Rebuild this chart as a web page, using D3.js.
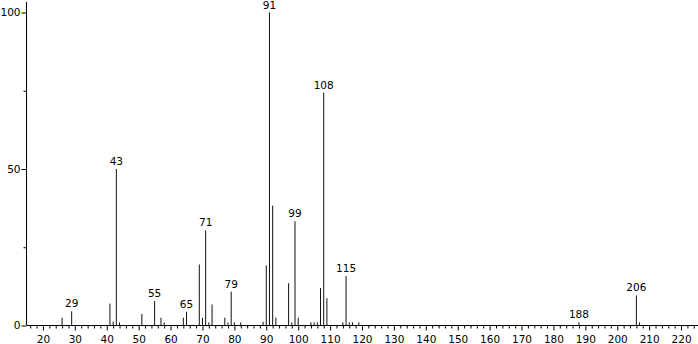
<!DOCTYPE html>
<html><head><meta charset="utf-8">
<script src="https://cdn.jsdelivr.net/npm/d3@7"></script>
<style>body{margin:0;background:#fff}svg{display:block}text{font-family:"DejaVu Sans",sans-serif;font-size:10.5px;fill:#000}</style>
</head><body><svg id="c" width="698" height="344"></svg>
<script>
const mz = [26,29,41,42,43,44,51,55,57,58,64,65,69,70,71,72,73,77,78,79,80,82,89,90,91,92,93,97,98,99,100,104,105,106,107,108,109,114,115,116,117,119,188,206,207];
const intensity = [2.5,4.5,7,1.3,50,1,3.7,7.8,2.5,1,2.5,4.4,19.5,2.5,30.4,1,6.7,2.5,1,10.8,1,1,1.2,19.2,100,38.3,2.5,13.5,1,33.3,2.5,1,1,1,12,74.4,8.7,1,15.8,1,1,1,1,9.6,1];
const labeled = [29,43,55,65,71,79,91,99,108,115,188,206];
const xTicks = [20,30,40,50,60,70,80,90,100,110,120,130,140,150,160,170,180,190,200,210,220];
const yTicks = [0,50,100];

const svg = d3.select("#c");
const x = d3.scaleLinear().domain([15,225]).range([27,697]);
const y = d3.scaleLinear().domain([0,100]).range([325.5,12.5]);

// peaks
svg.append("g").selectAll("line").data(mz).join("line")
  .attr("x1",d=>x(d)).attr("x2",d=>x(d))
  .attr("y1",y(0)).attr("y2",(d,i)=>y(intensity[i]))
  .attr("stroke","#111").attr("stroke-width",1);

// labels
svg.append("g").selectAll("text").data(labeled).join("text")
  .attr("x",d=>x(d)).attr("y",d=>y(intensity[mz.indexOf(d)])-4)
  .attr("text-anchor","middle").text(d=>d);

// x axis minor
const xMinor = d3.range(16,226,2).filter(v=>v%10!==0);
svg.append("g").attr("transform","translate(0,325.5)")
  .call(d3.axisBottom(x).tickValues(xMinor).tickSize(3).tickFormat(""))
  .call(g=>g.select(".domain").remove());
// x axis major
svg.append("g").attr("transform","translate(0,325.5)")
  .call(d3.axisBottom(x).tickValues(xTicks).tickSize(5).tickSizeOuter(0).tickPadding(5).tickFormat(d3.format("d")))
  .call(g=>g.select(".domain").attr("d","M27,0H698"))
  .call(g=>g.selectAll("text").style("font-family","DejaVu Sans").style("font-size","10.5px"));

// y axis minor
svg.append("g").attr("transform","translate(26.5,0)")
  .call(d3.axisLeft(y).tickValues([25,75]).tickSize(3).tickFormat(""))
  .call(g=>g.select(".domain").remove());
svg.append("g").attr("transform","translate(26.5,0)")
  .call(d3.axisLeft(y).tickValues(yTicks).tickSize(5).tickSizeOuter(0).tickPadding(1).tickFormat(d3.format("d")))
  .call(g=>g.select(".domain").attr("d","M0,2V325.5"))
  .call(g=>g.selectAll("text").style("font-family","DejaVu Sans").style("font-size","10.5px"));
</script></body></html>
